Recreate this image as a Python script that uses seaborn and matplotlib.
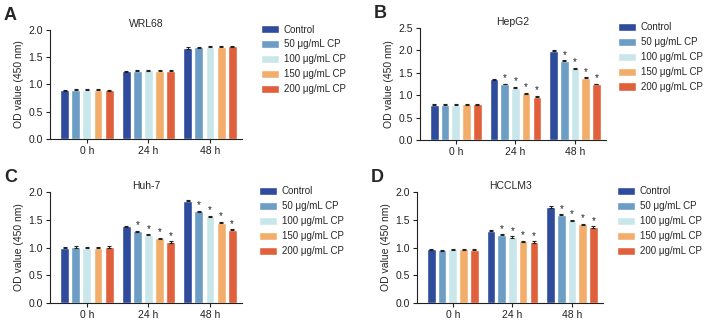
import numpy as np
import pandas as pd
import matplotlib
matplotlib.use("Agg")
import matplotlib.pyplot as plt
import seaborn as sns

times = ["0 h", "24 h", "48 h"]
groups = ["Control", "50 \u03bcg/mL CP", "100 \u03bcg/mL CP", "150 \u03bcg/mL CP", "200 \u03bcg/mL CP"]
colors = ["#2f4b9b", "#6b9dc5", "#c9e7eb", "#f3ad6b", "#e0603b"]

# mean OD per time point (rows) and group (columns)
wrl68 = [[0.89, 0.90, 0.90, 0.90, 0.89],
         [1.24, 1.25, 1.26, 1.25, 1.25],
         [1.67, 1.68, 1.69, 1.69, 1.70]]
hepg2 = [[0.79, 0.79, 0.79, 0.80, 0.80],
         [1.36, 1.25, 1.17, 1.04, 0.97],
         [1.99, 1.77, 1.60, 1.39, 1.25]]
huh7 = [[1.00, 1.01, 1.00, 1.00, 1.01],
        [1.38, 1.29, 1.23, 1.17, 1.10],
        [1.84, 1.65, 1.56, 1.45, 1.32]]
hcclm3 = [[0.97, 0.95, 0.97, 0.97, 0.96],
          [1.30, 1.23, 1.19, 1.11, 1.10],
          [1.73, 1.59, 1.49, 1.42, 1.37]]
err = [[0.01, 0.01, 0.01, 0.01, 0.01],
       [0.01, 0.01, 0.01, 0.01, 0.01],
       [0.01, 0.01, 0.01, 0.01, 0.01]]

panels = [
    ("A", "WRL68", wrl68, 2.0, False),
    ("B", "HepG2", hepg2, 2.5, True),
    ("C", "Huh-7", huh7, 2.0, True),
    ("D", "HCCLM3", hcclm3, 2.0, True),
]
# axes boxes in pixels: left, top, bottom, width, legend left
boxes = [(50, 30, 139, 192, 261), (420, 28, 140, 186, 618),
         (50, 192, 303, 192, 259), (417, 192, 303, 186, 617)]

sns.set_style("ticks")
plt.rcParams["font.family"] = ["Liberation Sans", "DejaVu Sans"]

W, H = 709, 321
fig = plt.figure(figsize=(W / 100, H / 100), dpi=100)

for (letter, title, vals, ymax, stars), (lx, ty, by, wd, lg) in zip(panels, boxes):
    ax = fig.add_axes([lx / W, 1 - by / H, wd / W, (by - ty) / H])
    rows = []
    for i, t in enumerate(times):
        for j, g in enumerate(groups):
            rows.append({"time": t, "group": g, "od": vals[i][j], "sd": err[i][j]})
    df = pd.DataFrame(rows)
    sns.barplot(data=df, x="time", y="od", hue="group", hue_order=groups,
                palette=colors, errorbar=None, width=0.9, gap=0.2,
                saturation=1, ax=ax)
    # error bars and asterisks on top of the bars seaborn placed
    for j, g in enumerate(groups):
        cont = ax.containers[j]
        for i, bar in enumerate(cont):
            xc = bar.get_x() + bar.get_width() / 2
            h = bar.get_height()
            e = err[i][j]
            ax.errorbar(xc, h, yerr=e, fmt="none", ecolor="#222222",
                        elinewidth=0.8, capsize=1.4, capthick=0.8)
            if stars and j > 0 and i > 0:
                ax.text(xc, h + e + ymax * 0.005, "*", ha="center", va="bottom",
                        fontsize=7, color="#222222")
    ax.set_ylim(0, ymax)
    ax.set_yticks(np.arange(0, ymax + 0.01, 0.5))
    ax.set_yticklabels([f"{v:.1f}" for v in np.arange(0, ymax + 0.01, 0.5)])
    ax.set_xlim(-0.6, 2.52)
    ax.set_xlabel("")
    ax.set_ylabel("OD value (450 nm)", fontsize=7.5, labelpad=3)
    ax.set_title(title, fontsize=7.5, pad=2)
    ax.tick_params(axis="both", labelsize=7.5, width=0.8, length=3, pad=2, colors="#222222")
    for s in ["left", "bottom"]:
        ax.spines[s].set_linewidth(0.8)
        ax.spines[s].set_color("#222222")
    sns.despine(ax=ax)
    ax.legend(loc="upper left", bbox_to_anchor=((lg - lx) / wd, 1.05), frameon=False,
              fontsize=7, handlelength=1.9, handleheight=0.9,
              labelspacing=0.5, handletextpad=0.45, borderaxespad=0, borderpad=0)
    fig.text((lx - 46) / W, 1 - (ty - 14) / H, letter, fontsize=13,
             fontweight="bold", ha="left", va="center")

fig.savefig("out.png", dpi=100)
